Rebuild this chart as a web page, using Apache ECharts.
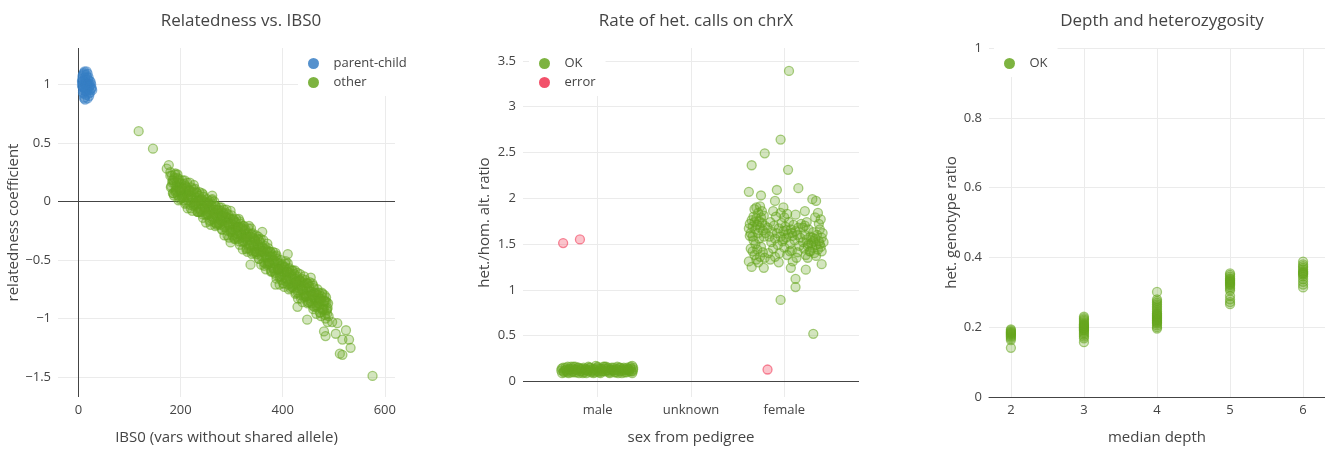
<!DOCTYPE html>
<html>
<head>
<meta charset="utf-8">
<script src="https://cdn.jsdelivr.net/npm/echarts@6/dist/echarts.min.js"></script>
<style>
html, body { margin: 0; background: #fff; }
#main { width: 1325px; height: 450px; }
</style>
</head>
<body>
<div id="main"></div>
<script>
// panel 1: [IBS0, relatedness]
var parentChild = [
  [7,1.02],[8,0.98],[8,1.05],[9,0.95],[9,1.08],[9,1.0],[10,0.92],[10,1.03],[11,1.10],[11,0.97],
  [12,1.01],[12,0.89],[13,1.06],[13,0.94],[14,0.99],[14,1.04],[15,0.91],[15,1.08],[16,0.97],[16,1.02],
  [17,0.94],[17,1.06],[18,1.0],[18,0.88],[19,1.04],[19,0.96],[20,1.01],[20,0.92],[21,0.98],[22,1.03],
  [22,0.95],[23,0.99],[24,1.02],[25,0.96],[26,0.97],[27,0.95],[7,0.99],[8,1.07],[9,0.93],[10,1.09],
  [12,1.11],[13,0.87],[16,1.11],[18,1.09],[21,0.9],[10,0.97],[11,1.02],[14,0.95],[17,1.0],[20,1.06],
  [7,1.03],[23,0.93],[25,1.0],[11,0.88],[15,1.0],[13,1.0],[19,1.0],[12,0.97]
];
var otherPairs = [
  [118,0.60],[146,0.45],[173,0.28],[177,0.31],[180,0.25],
  [180,0.22],[182,0.13],[184,0.18],[186,0.07],[188,0.20],[190,0.08],[192,0.13],[194,0.23],[196,0.01],[198,0.16],
  [200,0.10],[202,0.03],[204,0.18],[206,0.06],[208,0.11],[210,-0.01],[212,0.12],[214,0.01],[216,0.06],[218,0.16],
  [220,-0.06],[222,0.08],[224,0.03],[226,-0.04],[228,0.11],[230,-0.01],[232,0.03],[234,-0.09],[236,0.05],[238,-0.07],
  [240,-0.02],[242,0.07],[244,-0.14],[246,0.00],[248,-0.05],[250,-0.12],[252,0.02],[254,-0.09],[256,-0.05],[258,-0.16],
  [260,-0.03],[262,-0.15],[264,-0.09],[266,0.00],[268,-0.21],[270,-0.07],[272,-0.13],[274,-0.19],[276,-0.05],[278,-0.16],
  [280,-0.12],[282,-0.24],[284,-0.10],[286,-0.22],[288,-0.16],[290,-0.07],[292,-0.29],[294,-0.14],[296,-0.20],[298,-0.26],
  [300,-0.12],[302,-0.24],[304,-0.20],[306,-0.31],[308,-0.18],[310,-0.30],[312,-0.25],[314,-0.15],[316,-0.37],[318,-0.22],
  [320,-0.28],[322,-0.35],[324,-0.21],[326,-0.32],[328,-0.28],[330,-0.40],[332,-0.27],[334,-0.38],[336,-0.33],[338,-0.23],
  [340,-0.45],[342,-0.31],[344,-0.37],[346,-0.43],[348,-0.29],[350,-0.41],[352,-0.37],[354,-0.49],[356,-0.35],[358,-0.47],
  [360,-0.42],[362,-0.33],[364,-0.55],[366,-0.41],[368,-0.47],[370,-0.54],[372,-0.40],[374,-0.52],[376,-0.47],[378,-0.59],
  [380,-0.46],[382,-0.58],[384,-0.53],[386,-0.44],[388,-0.66],[390,-0.52],[392,-0.58],[394,-0.65],[396,-0.50],[398,-0.62],
  [400,-0.58],[402,-0.70],[404,-0.56],[406,-0.68],[408,-0.62],[410,-0.53],[412,-0.75],[414,-0.61],[416,-0.66],[418,-0.73],
  [420,-0.59],[422,-0.71],[424,-0.66],[426,-0.78],[428,-0.64],[430,-0.76],[432,-0.71],[434,-0.62],[436,-0.83],[438,-0.69],
  [440,-0.75],[442,-0.82],[444,-0.67],[446,-0.79],[448,-0.74],[450,-0.86],[452,-0.73],[454,-0.85],[456,-0.79],[458,-0.70],
  [460,-0.92],[462,-0.78],[464,-0.83],[466,-0.90],[468,-0.75],[470,-0.87],[472,-0.83],[474,-0.95],[476,-0.81],[478,-0.93],
  [480,-0.88],[482,-0.80],[484,-1.00],[486,-0.86],[488,-0.91],[490,-0.98],
  [181,0.12],[183,0.22],[185,0.07],[187,0.16],[189,0.23],[191,0.10],[193,0.16],[195,0.05],[197,0.19],[199,0.09],
  [201,0.15],[203,0.04],[205,0.05],[207,0.15],[209,-0.02],[211,0.09],[213,0.16],[215,0.03],[217,0.09],[219,-0.03],
  [221,0.12],[223,0.02],[225,0.08],[227,-0.03],[229,-0.03],[231,0.08],[233,-0.09],[235,0.01],[237,0.08],[239,-0.06],
  [241,0.01],[243,-0.11],[245,0.04],[247,-0.06],[249,-0.01],[251,-0.11],[253,-0.11],[255,-0.01],[257,-0.17],[259,-0.07],
  [261,0.01],[263,-0.13],[265,-0.07],[267,-0.18],[269,-0.04],[271,-0.13],[273,-0.08],[275,-0.19],[277,-0.18],[279,-0.08],
  [281,-0.24],[283,-0.14],[285,-0.07],[287,-0.20],[289,-0.14],[291,-0.25],[293,-0.11],[295,-0.21],[297,-0.15],[299,-0.26],
  [301,-0.25],[303,-0.15],[305,-0.32],[307,-0.22],[309,-0.15],[311,-0.28],[313,-0.22],[315,-0.34],[317,-0.19],[319,-0.29],
  [321,-0.23],[323,-0.34],[325,-0.34],[327,-0.24],[329,-0.41],[331,-0.30],[333,-0.23],[335,-0.37],[337,-0.30],[339,-0.42],
  [341,-0.27],[343,-0.37],[345,-0.32],[347,-0.43],[349,-0.43],[351,-0.32],[353,-0.49],[355,-0.39],[357,-0.32],[359,-0.46],
  [361,-0.40],[363,-0.52],[365,-0.38],[367,-0.48],[369,-0.43],[371,-0.53],[373,-0.53],[375,-0.43],[377,-0.60],[379,-0.50],
  [381,-0.43],[383,-0.57],[385,-0.51],[387,-0.63],[389,-0.49],[391,-0.58],[393,-0.53],[395,-0.64],[397,-0.64],[399,-0.54],
  [401,-0.70],[403,-0.60],[405,-0.53],[407,-0.66],[409,-0.60],[411,-0.71],[413,-0.57],[415,-0.67],[417,-0.62],[419,-0.73],
  [421,-0.72],[423,-0.62],[425,-0.79],[427,-0.68],[429,-0.61],[431,-0.74],[433,-0.68],[435,-0.80],[437,-0.66],[439,-0.76],
  [441,-0.70],[443,-0.81],[445,-0.81],[447,-0.70],[449,-0.87],[451,-0.76],[453,-0.69],[455,-0.83],[457,-0.77],[459,-0.89],
  [461,-0.74],[463,-0.84],[465,-0.79],[467,-0.89],[469,-0.89],[471,-0.78],[473,-0.95],[475,-0.85],[477,-0.78],[479,-0.92],
  [481,-0.85],[483,-0.97],[485,-0.82],[487,-0.92],[489,-0.87],
  [184,0.16],[187,0.05],[190,0.24],[193,0.09],[196,0.18],[199,0.02],[202,0.12],[205,0.03],[208,0.18],[211,0.07],
  [214,-0.06],[217,0.10],[220,0.05],[223,-0.08],[226,0.14],[229,-0.02],[232,0.07],[235,-0.09],[238,0.01],[241,-0.09],
  [244,0.06],[247,-0.05],[250,-0.18],[253,-0.02],[256,-0.07],[259,-0.20],[262,0.02],[265,-0.14],[268,-0.04],[271,-0.20],
  [274,-0.10],[277,-0.20],[280,-0.05],[283,-0.16],[286,-0.29],[289,-0.13],[292,-0.18],[295,-0.31],[298,-0.08],[301,-0.24],
  [304,-0.16],[307,-0.32],[310,-0.22],[313,-0.32],[316,-0.17],[319,-0.28],[322,-0.41],[325,-0.25],[328,-0.30],[331,-0.43],
  [334,-0.21],[337,-0.37],[340,-0.28],[343,-0.44],[346,-0.34],[349,-0.45],[352,-0.30],[355,-0.41],[358,-0.54],[361,-0.39],
  [364,-0.44],[367,-0.58],[370,-0.36],[373,-0.52],[376,-0.43],[379,-0.60],[382,-0.50],[385,-0.61],[388,-0.46],[391,-0.57],
  [394,-0.71],[397,-0.55],[400,-0.60],[403,-0.73],[406,-0.51],[409,-0.67],[412,-0.58],[415,-0.74],[418,-0.64],[421,-0.74],
  [424,-0.59],[427,-0.70],[430,-0.83],[433,-0.67],[436,-0.72],[439,-0.86],[442,-0.64],[445,-0.80],[448,-0.70],[451,-0.86],
  [454,-0.77],[457,-0.87],[460,-0.72],[463,-0.83],[466,-0.96],[469,-0.80],[472,-0.85],[475,-0.98],[478,-0.79],[481,-0.92],
  [484,-0.85],[487,-0.96],
  [186,0.18],[190,0.09],[194,0.20],[198,0.10],[202,0.10],[206,0.01],[210,0.13],[214,0.04],[218,0.09],[222,-0.01],
  [226,0.10],[230,0.00],[234,0.00],[238,-0.09],[242,0.02],[246,-0.07],[250,-0.02],[254,-0.11],[258,0.00],[262,-0.11],
  [266,-0.10],[270,-0.19],[274,-0.07],[278,-0.16],[282,-0.12],[286,-0.21],[290,-0.10],[294,-0.20],[298,-0.19],[302,-0.29],
  [306,-0.17],[310,-0.27],[314,-0.22],[318,-0.31],[322,-0.21],[326,-0.31],[330,-0.31],[334,-0.40],[338,-0.28],[342,-0.38],
  [346,-0.33],[350,-0.43],[354,-0.33],[358,-0.43],[362,-0.43],[366,-0.53],[370,-0.42],[374,-0.52],[378,-0.47],[382,-0.57],
  [386,-0.47],[390,-0.58],[394,-0.58],[398,-0.67],[402,-0.56],[406,-0.65],[410,-0.60],[414,-0.70],[418,-0.59],[422,-0.70],
  [426,-0.69],[430,-0.78],[434,-0.67],[438,-0.76],[442,-0.72],[446,-0.81],[450,-0.70],[454,-0.81],[458,-0.80],[462,-0.90],
  [466,-0.78],[470,-0.87],[474,-0.83],[478,-0.92],[482,-0.85],[486,-0.93],
  [337,-0.54],[360,-0.26],[386,-0.71],[429,-0.90],[448,-1.01],[298,-0.35],[262,0.05],[410,-0.45],[455,-0.65],
  [481,-1.11],[484,-1.15],[488,-1.03],[497,-1.03],[504,-1.13],[507,-1.04],[512,-1.30],[517,-1.18],
  [517,-1.31],[524,-1.10],[530,-1.18],[533,-1.25],[576,-1.49]
];
var ibs0Ticks = [0, 200, 400, 600];
var relTicks = [-1.5, -1, -0.5, 0, 0.5, 1];

// panel 2: [jittered sex position, het/hom-alt ratio]; 0 = male, 1 = unknown, 2 = female
var sexLabels = ['male', 'unknown', 'female'];
var chrxMaleOk = [
  [-0.39,0.12],[-0.37,0.15],[-0.36,0.10],[-0.34,0.13],[-0.32,0.16],[-0.31,0.09],[-0.29,0.12],[-0.27,0.14],[-0.25,0.10],[-0.24,0.16],
  [-0.22,0.12],[-0.20,0.09],[-0.19,0.14],[-0.17,0.11],[-0.15,0.15],[-0.14,0.12],[-0.12,0.09],[-0.10,0.16],[-0.09,0.13],[-0.07,0.10],
  [-0.05,0.14],[-0.04,0.12],[-0.02,0.17],[0.00,0.11],[0.01,0.14],[0.03,0.09],[0.05,0.13],[0.06,0.16],[0.08,0.11],[0.10,0.14],
  [0.11,0.12],[0.13,0.09],[0.15,0.15],[0.16,0.12],[0.18,0.10],[0.20,0.14],[0.21,0.16],[0.23,0.11],[0.25,0.13],[0.26,0.09],
  [0.28,0.15],[0.30,0.12],[0.31,0.10],[0.33,0.14],[0.35,0.16],[0.36,0.11],[0.38,0.13],[-0.35,0.12],[-0.23,0.13],[-0.11,0.12],
  [0.02,0.12],[0.14,0.13],[0.27,0.12],[0.37,0.17],[-0.30,0.14],[-0.18,0.13],[-0.06,0.11],[0.07,0.14],[0.19,0.12],[0.32,0.13],
  [-0.38,0.09],[-0.33,0.11],[-0.28,0.10],[-0.26,0.16],[-0.21,0.15],[-0.16,0.09],[-0.13,0.14],[-0.08,0.15],[-0.03,0.10],[0.00,0.16],
  [0.04,0.11],[0.09,0.16],[0.12,0.10],[0.17,0.15],[0.22,0.09],[0.24,0.15],[0.29,0.10],[0.34,0.11],[0.37,0.09],[0.38,0.15],
  [-0.385,0.14],[-0.365,0.11],[-0.345,0.15],[-0.325,0.10],[-0.305,0.13],[-0.285,0.16],[-0.265,0.11],[-0.245,0.13],[-0.225,0.10],[-0.205,0.15],
  [-0.185,0.11],[-0.165,0.14],[-0.145,0.10],[-0.125,0.13],[-0.105,0.11],[-0.085,0.15],[-0.065,0.12],[-0.045,0.09],[-0.025,0.13],[-0.005,0.15],
  [0.015,0.10],[0.035,0.14],[0.055,0.11],[0.075,0.16],[0.095,0.12],[0.115,0.15],[0.135,0.11],[0.155,0.13],[0.175,0.12],[0.195,0.10],
  [0.215,0.13],[0.235,0.15],[0.255,0.11],[0.275,0.14],[0.295,0.13],[0.315,0.15],[0.335,0.12],[0.355,0.14],[0.375,0.11]
];
var chrxFemaleOk = [
  [2.05,3.39],[1.96,2.64],[1.79,2.49],[1.65,2.36],[2.04,2.31],[2.15,2.11],[1.92,2.09],[1.62,2.07],[1.75,2.03],[2.30,1.99],
  [2.34,1.97],[1.90,1.97],[1.99,1.90],[2.22,1.86],[2.12,1.82],[2.12,1.12],[2.12,1.03],[1.96,0.89],[2.31,0.52],[2.23,1.22],
  [1.65,1.25],[1.62,1.31],[1.78,1.24],[2.07,1.24],[2.40,1.28],
  [1.63,1.72],[1.65,1.76],[1.66,1.69],[1.67,1.80],[1.68,1.74],[1.69,1.66],[1.70,1.78],[1.71,1.71],[1.72,1.84],[1.73,1.75],
  [1.74,1.68],[1.75,1.79],[1.76,1.73],[1.77,1.65],[1.78,1.81],[1.79,1.70],[1.64,1.62],[1.66,1.58],[1.68,1.88],[1.70,1.90],
  [1.72,1.62],[1.74,1.91],[1.76,1.86],[1.62,1.67],[1.63,1.59],[1.67,1.54],[1.69,1.50],[1.71,1.44],[1.73,1.56],[1.75,1.47],
  [1.78,1.58],[1.80,1.62],[1.64,1.45],[1.66,1.42],[1.68,1.38],[1.70,1.33],[1.72,1.30],[1.74,1.36],[1.77,1.41],[1.79,1.35],
  [1.82,1.68],[1.84,1.58],[1.85,1.74],[1.86,1.52],[1.87,1.63],[1.88,1.45],[1.89,1.70],[1.90,1.56],[1.91,1.80],[1.92,1.62],
  [1.93,1.49],[1.94,1.67],[1.95,1.40],[1.96,1.58],[1.97,1.73],[1.98,1.53],[1.99,1.64],[2.00,1.46],[2.01,1.69],[2.02,1.57],
  [2.03,1.38],[2.04,1.61],[2.05,1.74],[2.06,1.50],[2.07,1.66],[2.08,1.43],[2.09,1.59],[2.10,1.71],[2.11,1.54],[2.12,1.64],
  [2.13,1.35],[2.14,1.60],[2.15,1.68],[2.16,1.48],[2.17,1.57],[2.18,1.72],[1.83,1.40],[1.85,1.33],[1.90,1.36],[1.96,1.84],
  [2.00,1.79],[2.03,1.83],[2.06,1.42],[2.09,1.31],[1.88,1.86],[1.94,1.30],[1.99,1.55],[2.02,1.65],[2.08,1.62],[2.14,1.41],
  [2.20,1.52],[2.21,1.45],[2.22,1.60],[2.23,1.38],[2.24,1.55],[2.25,1.48],[2.26,1.66],[2.27,1.42],[2.28,1.58],[2.29,1.51],
  [2.30,1.46],[2.31,1.63],[2.32,1.40],[2.33,1.56],[2.34,1.49],[2.35,1.60],[2.36,1.44],[2.37,1.53],[2.38,1.66],[2.39,1.47],
  [2.40,1.57],[2.41,1.62],[2.42,1.52],[2.22,1.70],[2.25,1.35],[2.28,1.42],[2.31,1.53],[2.34,1.37],[2.37,1.72],[2.40,1.42],
  [2.33,1.79],[2.36,1.84],[2.26,1.50],[2.30,1.57],[2.38,1.50],[2.24,1.74],[2.20,1.68],[2.39,1.77]
];
var chrxError = [[-0.37,1.51],[-0.19,1.55],[1.82,0.13]];
var ratioTicks = [0, 0.5, 1, 1.5, 2, 2.5, 3, 3.5];

// panel 3: het. genotype ratio per median depth
var depthValues = [2, 3, 4, 5, 6];
var hetDepth2 = [0.141,0.163,0.168,0.172,0.175,0.178,0.180,0.182,0.184,0.186,0.188,0.191,0.194];
var hetDepth3 = [0.157,0.168,0.173,0.178,0.182,0.186,0.190,0.192,0.194,0.196,0.198,0.200,0.202,0.204,0.206,0.208,0.210,0.214,0.218,0.222,0.226,0.230];
var hetDepth4 = [0.196,0.200,0.205,0.210,0.213,0.215,0.218,0.220,0.223,0.225,0.228,0.230,0.233,0.235,0.238,0.240,0.245,0.250,0.255,0.260,0.265,0.270,0.275,0.280,0.301];
var hetDepth5 = [0.266,0.272,0.280,0.290,0.305,0.310,0.315,0.320,0.323,0.325,0.328,0.330,0.333,0.335,0.338,0.340,0.345,0.350,0.354];
var hetDepth6 = [0.314,0.322,0.330,0.338,0.345,0.350,0.353,0.355,0.358,0.360,0.365,0.370,0.375,0.380,0.388];

var hetColumns = [hetDepth2, hetDepth3, hetDepth4, hetDepth5, hetDepth6];
var depthPairs = [];
hetColumns.forEach(function (col, i) {
  col.forEach(function (v) { depthPairs.push([depthValues[i], v]); });
});

var GREEN = '102,166,30', BLUE = '55,126,196', RED = '240,50,80';
var FONT = '"Open Sans", sans-serif';
var TXT = '#444';
var GRID = '#ebebeb';

function dots(rgb) {
  return {
    color: 'rgba(' + rgb + ',0.36)',
    borderColor: 'rgba(' + rgb + ',0.7)',
    borderWidth: 1.3
  };
}

function valueAxis(idx, min, max, ticks, name, gap, fmt) {
  return {
    type: 'value', gridIndex: idx, min: min, max: max,
    name: name, nameLocation: 'middle', nameGap: gap,
    nameTextStyle: { color: TXT, fontSize: 15, fontFamily: FONT },
    axisLine: { show: false },
    axisTick: { show: false, customValues: ticks },
    axisLabel: { customValues: ticks, color: TXT, fontSize: 13, fontFamily: FONT, margin: 7, formatter: fmt || function (v) { return String(v).replace('-', '\u2212'); } },
    splitLine: { show: true, lineStyle: { color: GRID, width: 1 } }
  };
}

function zeroLines(xi, yi, lines) {
  return {
    type: 'scatter', xAxisIndex: xi, yAxisIndex: yi, data: [], silent: true,
    markLine: {
      z: 1, silent: true, symbol: 'none', label: { show: false },
      lineStyle: { color: '#444', width: 1, type: 'solid' },
      emphasis: { disabled: true },
      data: lines
    }
  };
}

function legendBox(left, items) {
  return {
    left: left, top: 48, orient: 'vertical', padding: [9, 10, 7, 10], itemGap: 6,
    itemWidth: 30, itemHeight: 11, icon: 'circle', symbolKeepAspect: true,
    backgroundColor: '#fff', textStyle: { color: TXT, fontSize: 13, fontFamily: FONT },
    data: items.map(function (it) {
      return { name: it[0], itemStyle: { color: 'rgb(' + it[1] + ')', borderWidth: 0, opacity: 0.85 } };
    })
  };
}

var chartDom = document.getElementById('main');
var myChart = echarts.init(chartDom);
var option = {
  animation: false,
  textStyle: { fontFamily: FONT },
  title: [
    { text: 'Relatedness vs. IBS0', left: 236, top: 8, textAlign: 'center', textStyle: { color: TXT, fontSize: 17, fontWeight: 'normal', fontFamily: FONT } },
    { text: 'Rate of het. calls on chrX', left: 691, top: 8, textAlign: 'center', textStyle: { color: TXT, fontSize: 17, fontWeight: 'normal', fontFamily: FONT } },
    { text: 'Depth and heterozygosity', left: 1157, top: 8, textAlign: 'center', textStyle: { color: TXT, fontSize: 17, fontWeight: 'normal', fontFamily: FONT } }
  ],
  legend: [
    legendBox(298, [['parent-child', BLUE], ['other', GREEN]]),
    legendBox(529, [['OK', GREEN], ['error', RED]]),
    legendBox(994, [['OK', GREEN]])
  ],
  grid: [
    { left: 58, top: 48, width: 337, height: 350 },
    { left: 523, top: 48, width: 336, height: 350 },
    { left: 989, top: 48, width: 336, height: 350 }
  ],
  xAxis: [
    valueAxis(0, -40, 620, ibs0Ticks, 'IBS0 (vars without shared allele)', 33),
    valueAxis(1, -0.8, 2.8, [0, 1, 2], 'sex from pedigree', 33, function (v) { return sexLabels[Math.round(v)]; }),
    (function () {
      var a = valueAxis(2, 1.7, 6.3, depthValues, 'median depth', 33);
      a.axisLine = { show: true, onZero: false, lineStyle: { color: '#444', width: 1 } };
      return a;
    })()
  ],
  yAxis: [
    valueAxis(0, -1.67, 1.31, relTicks, 'relatedness coefficient', 30),
    valueAxis(1, -0.17, 3.64, ratioTicks, 'het./hom. alt. ratio', 31),
    valueAxis(2, 0, 1, [0, 0.2, 0.4, 0.6, 0.8, 1], 'het. genotype ratio', 30)
  ],
  series: [
    zeroLines(0, 0, [{ yAxis: 0 }, { xAxis: 0 }]),
    zeroLines(1, 1, [{ yAxis: 0 }]),
    { name: 'other', type: 'scatter', xAxisIndex: 0, yAxisIndex: 0, z: 3, symbolSize: 9, itemStyle: dots(GREEN), data: otherPairs },
    { name: 'parent-child', type: 'scatter', xAxisIndex: 0, yAxisIndex: 0, z: 3, symbolSize: 9, itemStyle: dots(BLUE), data: parentChild },
    { name: 'OK', type: 'scatter', xAxisIndex: 1, yAxisIndex: 1, z: 3, symbolSize: 9, itemStyle: dots(GREEN), data: chrxMaleOk.concat(chrxFemaleOk) },
    { name: 'error', type: 'scatter', xAxisIndex: 1, yAxisIndex: 1, z: 3, symbolSize: 9, itemStyle: dots(RED), data: chrxError },
    { name: 'OK', type: 'scatter', xAxisIndex: 2, yAxisIndex: 2, z: 3, symbolSize: 9, itemStyle: dots(GREEN), data: depthPairs }
  ]
};
option && myChart.setOption(option);
</script>
</body>
</html>
